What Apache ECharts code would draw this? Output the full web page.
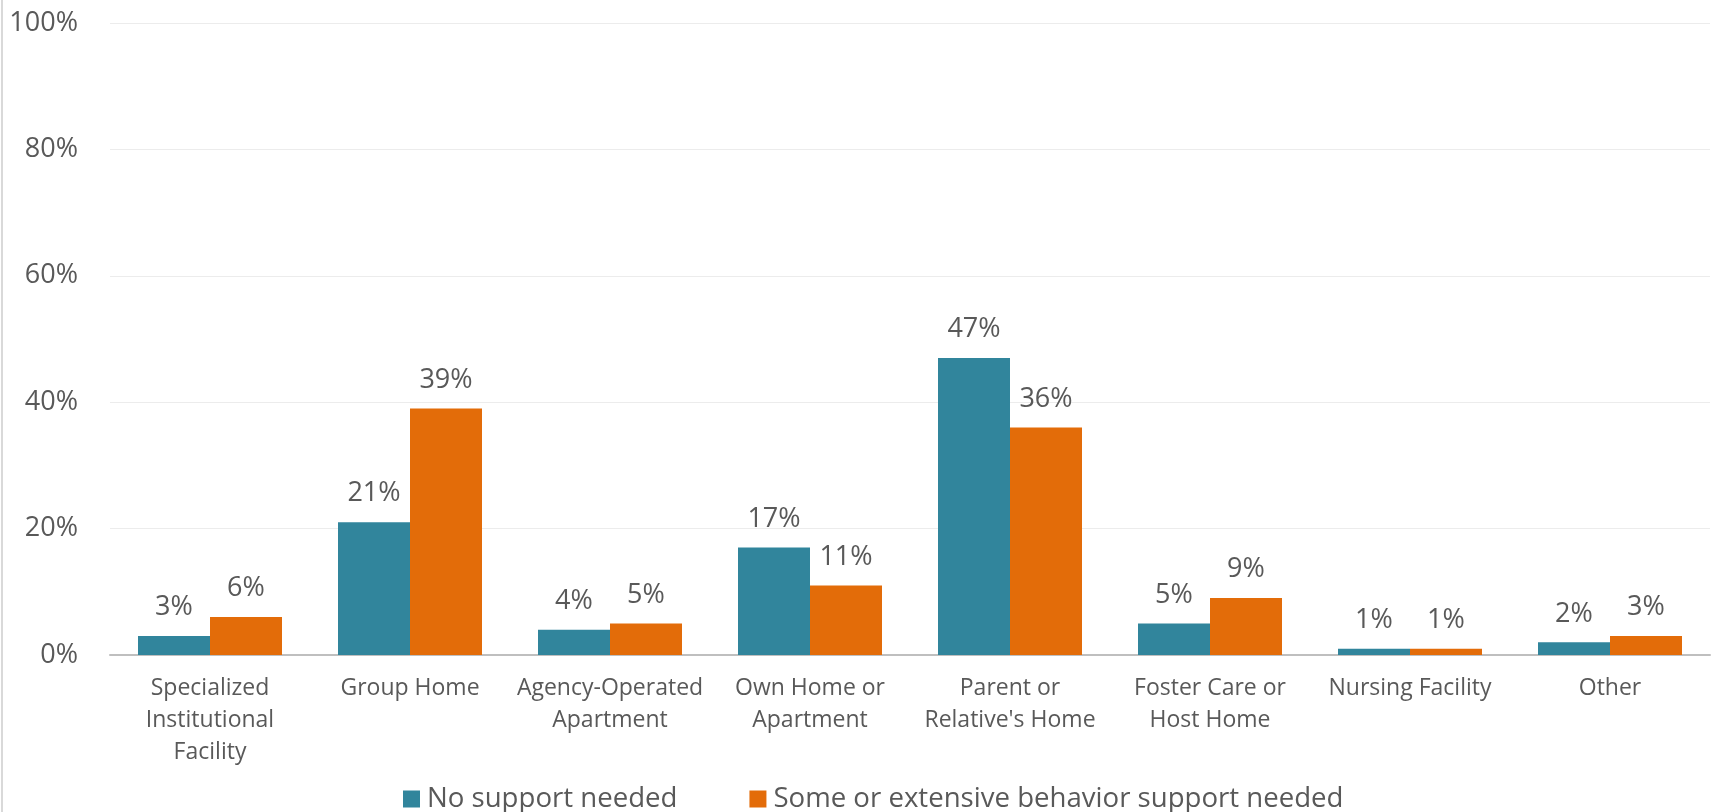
<!DOCTYPE html>
<html>
<head>
<meta charset="utf-8">
<style>
  html, body { margin: 0; padding: 0; background: #ffffff; }
  #chart { width: 1712px; height: 812px; }
</style>
<script src="https://cdn.jsdelivr.net/npm/echarts@6/dist/echarts.min.js"></script>
</head>
<body>
<div id="chart"></div>
<script>
// Residence type, split by behaviour-support need (percent of each group)
const categories = [
  'Specialized\nInstitutional\nFacility',
  'Group Home',
  'Agency-Operated\nApartment',
  'Own Home or\nApartment',
  'Parent or\nRelative\'s Home',
  'Foster Care or\nHost Home',
  'Nursing Facility',
  'Other'
];
const seriesNames = ['No support needed', 'Some or extensive behavior support needed'];
const noSupport = [3, 21, 4, 17, 47, 5, 1, 2];
const someSupport = [6, 39, 5, 11, 36, 9, 1, 3];
const yTicks = { min: 0, max: 100, interval: 20 };

const FONT = 'Open Sans';
const TEXT = '#595959';
const COLORS = ['#31859C', '#E36C09'];

const chart = echarts.init(document.getElementById('chart'), null, { renderer: 'canvas' });

function barSeries(name, data, color) {
  return {
    name: name,
    type: 'bar',
    data: data,
    barGap: '0%',
    barCategoryGap: '28%',
    itemStyle: { color: color },
    label: {
      show: true,
      position: 'top',
      distance: 15,
      formatter: '{c}%',
      fontFamily: FONT,
      fontSize: 27,
      color: TEXT
    }
  };
}

chart.setOption({
  animation: false,
  backgroundColor: '#ffffff',
  color: COLORS,
  textStyle: { fontFamily: FONT },
  grid: { left: 110, right: 2, top: 23, bottom: 157, containLabel: false },
  graphic: [{
    type: 'rect',
    left: 1,
    top: 0,
    shape: { width: 2, height: 812 },
    style: { fill: '#d9d9d9' },
    silent: true
  }],
  legend: {
    data: seriesNames,
    left: 398,
    top: 780,
    itemWidth: 17,
    itemHeight: 17,
    itemGap: 72,
    icon: 'rect',
    textStyle: { fontFamily: FONT, fontSize: 27.6, color: TEXT, padding: [0, 0, 0, 2] }
  },
  xAxis: {
    type: 'category',
    data: categories,
    axisLine: { lineStyle: { color: '#bfbfbf', width: 2 } },
    axisTick: { show: false },
    axisLabel: {
      interval: 0,
      margin: 17,
      fontFamily: FONT,
      fontSize: 23,
      lineHeight: 32,
      color: TEXT
    }
  },
  yAxis: {
    type: 'value',
    min: yTicks.min,
    max: yTicks.max,
    interval: yTicks.interval,
    axisLine: { show: false },
    axisTick: { show: false },
    splitLine: { lineStyle: { color: '#ececec', width: 1 } },
    axisLabel: {
      margin: 32,
      formatter: '{value}%',
      fontFamily: FONT,
      fontSize: 27,
      color: TEXT
    }
  },
  series: [
    barSeries(seriesNames[0], noSupport, COLORS[0]),
    barSeries(seriesNames[1], someSupport, COLORS[1])
  ]
});
</script>
</body>
</html>
